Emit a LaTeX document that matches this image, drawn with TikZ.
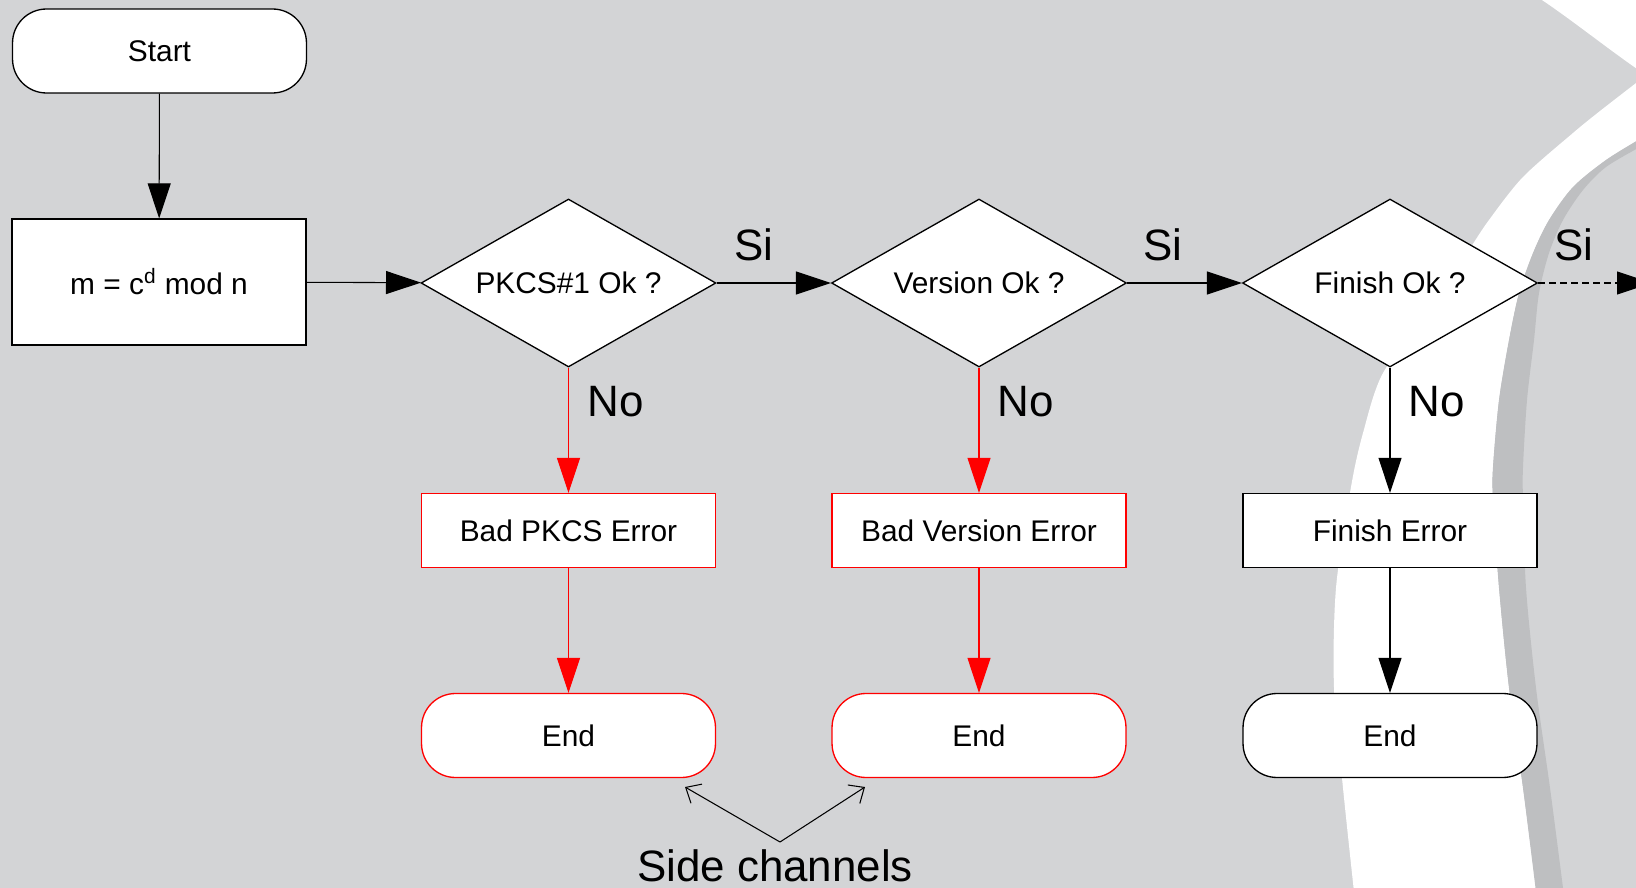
\documentclass[tikz,border=0pt]{standalone}
\usepackage{fontspec}
\setmainfont{Liberation Sans}
\usetikzlibrary{shapes.geometric,arrows.meta}
\definecolor{bggray}{RGB}{211,212,214}
\definecolor{bandgray}{RGB}{190,191,193}
\begin{document}
\begin{tikzpicture}[x=0.02cm,y=-0.02cm,
  every node/.style={font=\fontsize{17}{20}\selectfont},
  term/.style={draw, fill=white, line width=0.75pt, minimum width=5.88cm, minimum height=1.68cm, rounded corners=0.68cm, inner sep=0pt},
  procbox/.style={draw, fill=white, line width=0.75pt, minimum width=5.88cm, minimum height=1.48cm, inner sep=0pt},
  decision/.style={draw, fill=white, line width=0.75pt, shape=diamond, aspect=1.75, minimum width=5.9cm, minimum height=3.36cm, inner sep=0pt},
  flow/.style={line width=0.6pt, -{Triangle[length=0.7cm,width=0.46cm]}},
  sidearrow/.style={line width=0.6pt, -{Straight Barb[length=0.25cm,width=0.44cm]}},
  lbl/.style={font=\fontsize{25}{30}\selectfont, inner sep=0pt},
]
\useasboundingbox (0,0) rectangle (1636,888);
\clip (0,0) rectangle (1636,888);
\fill[bggray] (0,0) rectangle (1636,888);
% background decoration
\fill[white] (1539,-2) .. controls (1572,20) and (1604,46) .. (1640,71) -- (1640,-2) -- cycle;
\fill[white] plot[smooth] coordinates {(1640,80) (1600,111) (1573,133) (1523,177) (1489,220) (1469,250) (1430,310) (1383,373) (1363,433) (1351,487) (1336,588) (1334,688) (1343,788) (1354,892)}
  -- (1536,892) -- plot[smooth] coordinates {(1536,888) (1523,788) (1509,688) (1499,588) (1493,500) (1493,467) (1499,400) (1509,340) (1519,293) (1533,253) (1549,220) (1573,187) (1606,160) (1640,139)} -- cycle;
\fill[bandgray] plot[smooth] coordinates {(1640,139) (1606,160) (1573,187) (1549,220) (1533,253) (1519,293) (1509,340) (1499,400) (1493,467) (1493,500) (1499,588) (1509,688) (1523,788) (1536,892)}
  -- (1563,892) -- plot[smooth] coordinates {(1563,888) (1550,788) (1536,688) (1526,588) (1523,500) (1523,467) (1527,400) (1534,340) (1539,293) (1549,253) (1563,220) (1583,190) (1606,167) (1640,147)} -- cycle;
% nodes
\node[term] (start) at (159.5,51) {Start};
\node[procbox, minimum height=2.52cm] (mod) at (159,282) {m = c\textsuperscript{d} mod n};
\node[decision] (d1) at (568.5,283) {PKCS\#1 Ok ?};
\node[decision] (d2) at (979,283) {Version Ok ?};
\node[decision] (d3) at (1390,283) {Finish Ok ?};
\node[procbox, draw=red] (e1) at (568.5,530.5) {Bad PKCS Error};
\node[procbox, draw=red] (e2) at (979,530.5) {Bad Version Error};
\node[procbox] (e3) at (1390,530.5) {Finish Error};
\node[term, draw=red] (end1) at (568.5,735.5) {End};
\node[term, draw=red] (end2) at (979,735.5) {End};
\node[term] (end3) at (1390,735.5) {End};
\coordinate (out) at (1652,283);
% labels
\node[lbl] (si1) at (754,245) {Si};
\node[lbl] (si2) at (1163,245) {Si};
\node[lbl] (si3) at (1574,245) {Si};
\node[lbl] (no1) at (615.5,402) {No};
\node[lbl] (no2) at (1026,402) {No};
\node[lbl] (no3) at (1437,402) {No};
\node[lbl] (sc) at (775,866) {Side channels};
\coordinate (apex) at (780,842);
\coordinate (t1) at (685,787);
\coordinate (t2) at (865,787);
% connectors
\draw[flow] (start) -- (mod);
\draw[flow] (mod) -- (d1);
\draw[flow] (d1) -- (d2);
\draw[flow] (d2) -- (d3);
\draw[flow, dash pattern=on 0.14cm off 0.08cm] (d3.east) -- (out);
\draw[flow, red] (d1) -- (e1);
\draw[flow, red] (e1) -- (end1);
\draw[flow, red] (d2) -- (e2);
\draw[flow, red] (e2) -- (end2);
\draw[flow] (d3) -- (e3);
\draw[flow] (e3) -- (end3);
\draw[sidearrow] (apex) -- (t1);
\draw[sidearrow] (apex) -- (t2);
\end{tikzpicture}
\end{document}
